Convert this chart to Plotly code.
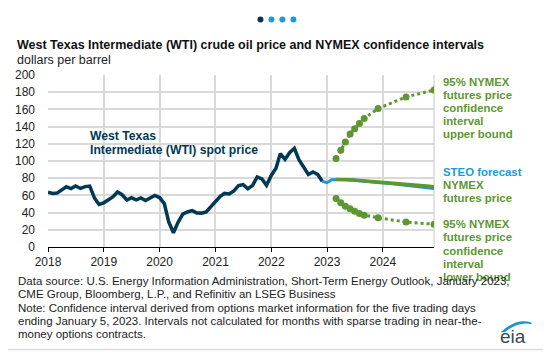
import plotly.graph_objects as go

# ---------------- data ----------------
wti_dates = [f"{y}-{m:02d}-01" for y in range(2018, 2023) for m in range(1, 13)]
wti_values = [
    63.7, 62.2, 62.7, 66.3, 70.0, 67.9, 71.0, 68.1, 70.2, 70.8, 57.0, 49.5,
    51.4, 55.0, 58.2, 63.9, 60.8, 54.7, 57.4, 54.8, 57.0, 54.0, 57.0, 59.9,
    57.5, 50.5, 29.2, 16.6, 28.6, 38.3, 40.7, 42.3, 39.6, 39.4, 40.9, 47.0,
    52.0, 59.0, 62.3, 61.7, 65.2, 71.4, 72.5, 67.7, 71.6, 81.5, 79.2, 71.7,
    83.2, 91.6, 108.5, 101.8, 109.6, 114.8, 101.6, 93.7, 84.3, 87.3, 84.4, 76.4,
]

steo_dates = ["2022-12-01"] + [f"{y}-{m:02d}-01" for y in (2023, 2024) for m in range(1, 13)]
steo_values = [
    76.4,
    74.8, 78.2, 78.6, 78.6, 78.4, 78.0, 77.5, 77.0, 76.5, 76.0, 75.5, 75.0,
    74.5, 74.0, 73.5, 73.0, 72.5, 72.0, 71.4, 70.8, 70.2, 69.5, 68.8, 68.0,
]

fut_dates = [f"{y}-{m:02d}-01" for y, ms in ((2023, range(3, 13)), (2024, range(1, 13))) for m in ms]
fut_values = [
    78.6, 78.6, 78.4, 78.1, 77.8, 77.4, 77.0, 76.6, 76.2, 75.8,
    75.4, 75.0, 74.6, 74.2, 73.8, 73.4, 73.0, 72.5, 72.0, 71.3, 70.6, 69.8,
]

ci_dates = ["2023-03-01", "2023-04-01", "2023-05-01", "2023-06-01", "2023-07-01",
            "2023-08-01", "2023-09-01", "2023-12-01", "2024-06-01", "2024-12-01"]
ci_upper = [103.0, 112.5, 122.0, 131.5, 137.5, 143.5, 149.5, 161.0, 174.5, 182.5]
ci_lower = [56.5, 51.5, 47.5, 44.5, 41.5, 39.0, 37.0, 34.0, 29.0, 26.5]

years = ["2018", "2019", "2020", "2021", "2022", "2023", "2024"]
y_ticks = list(range(0, 201, 20))

NAVY = "#003953"
BLUE = "#1b9ad6"
GREEN = "#5d9732"
FONT = "Liberation Sans, Arial, sans-serif"

OFF = 8  # page body margin
W, H = 551 - OFF, 355 - OFF
L, T = 47.7 - OFF, 75 - OFF
R = W - (434.3 - OFF)
B = H - (246.7 - OFF)
PW, PH = W - L - R, H - T - B


def px(x):  # page pixel -> paper
    return (x - OFF - L) / PW


def py(y):
    return (H - B - (y - OFF)) / PH


fig = go.Figure()
fig.add_trace(go.Scatter(x=wti_dates, y=wti_values, mode="lines",
                         line=dict(color=NAVY, width=3.5), hoverinfo="skip"))
fig.add_trace(go.Scatter(x=steo_dates, y=steo_values, mode="lines",
                         line=dict(color=BLUE, width=3), hoverinfo="skip"))
fig.add_trace(go.Scatter(x=fut_dates, y=fut_values, mode="lines",
                         line=dict(color=GREEN, width=3.5), hoverinfo="skip"))
for vals in (ci_upper, ci_lower):
    fig.add_trace(go.Scatter(x=ci_dates, y=vals, mode="lines+markers",
                             line=dict(color=GREEN, width=3, dash="dot"),
                             marker=dict(color=GREEN, size=7), hoverinfo="skip"))

ann = []


def text(x, y, s, size=12, color="#222", bold=False, anchor="left"):
    ann.append(dict(xref="paper", yref="paper", x=px(x), y=py(y), text=(f"<b>{s}</b>" if bold else s),
                    showarrow=False, xanchor=anchor, yanchor="middle",
                    font=dict(family=FONT, size=size, color=color)))


text(15, 45.5, "West Texas Intermediate (WTI) crude oil price and NYMEX confidence intervals", 12.5, "#111", True)
text(15, 60, "dollars per barrel", 12.5, "#222")

text(88, 136, "West Texas", 12.2, NAVY, True)
text(88, 150, "Intermediate (WTI) spot price", 12.2, NAVY, True)

GS = 11.4
for i, s in enumerate(["95% NYMEX", "futures price", "confidence", "interval", "upper bound"]):
    text(441, 82.3 + i * 12.8, s, GS, GREEN, True)
text(441, 172.3, "STEO forecast", GS, BLUE, True)
text(441, 185.1, "NYMEX", GS, GREEN, True)
text(441, 197.9, "futures price", GS, GREEN, True)
for i, s in enumerate(["95% NYMEX", "futures price", "confidence", "interval", "lower bound"]):
    text(441, 224 + i * 13.1, s, GS, GREEN, True)

foot = [
    "Data source: U.S. Energy Information Administration, Short-Term Energy Outlook, January 2023,",
    "CME Group, Bloomberg, L.P., and Refinitiv an LSEG Business",
    "Note: Confidence interval derived from options market information for the five trading days",
    "ending January 5, 2023. Intervals not calculated for months with sparse trading in near-the-",
    "money options contracts.",
]
for s, y in zip(foot, [281, 294, 308, 321, 333.5]):
    text(15.5, y, s, 11.5, "#222")

# eia logo text
text(513.5, 336, "eia", 19, "#3a4a55", False, "center")

shapes = [
    dict(type="rect", xref="paper", yref="paper", x0=px(6), x1=px(548), y0=py(2), y1=py(349),
         line=dict(color="#dcdcdc", width=1.5), fillcolor="rgba(0,0,0,0)", layer="below"),
    dict(type="rect", xref="paper", yref="paper", x0=px(6), x1=px(548), y0=py(2), y1=py(6.5),
         line=dict(width=0), fillcolor="#1796d5"),
    dict(type="line", xref="paper", yref="paper", x0=1, x1=1, y0=0, y1=1,
         line=dict(color="#d9d9d9", width=1.5), layer="below"),
    dict(type="path", xref="paper", yref="paper",
         path=f"M {px(503)},{py(331)} Q {px(518)},{py(318)} {px(532)},{py(323)} Q {px(519)},{py(320)} {px(505)},{py(331)} Z",
         line=dict(color="#1796d5", width=1.5), fillcolor="#1796d5"),
]
for i, cx in enumerate([260.5, 271.5, 282.5, 293.5]):
    c = "#0d3149" if i == 0 else "#1b9ad6"
    shapes.append(dict(type="circle", xref="paper", yref="paper", x0=px(cx - 3), x1=px(cx + 3),
                       y0=py(16.5), y1=py(22.5), line=dict(width=0), fillcolor=c))

fig.update_layout(
    width=W, height=H, autosize=False,
    margin=dict(l=L, r=R, t=T, b=B, pad=0),
    paper_bgcolor="white", plot_bgcolor="white",
    showlegend=False,
    font=dict(family=FONT, size=12, color="#222"),
    annotations=ann, shapes=shapes,
    xaxis=dict(type="date", range=["2018-01-01", "2024-12-01"], automargin=False,
               tickmode="array", tickvals=[f"{y}-01-01" for y in years], ticktext=years,
               showgrid=True, gridcolor="#d9d9d9", gridwidth=1.5,
               showline=True, linecolor="black", linewidth=1,
               ticks="outside", ticklen=4, tickcolor="black",
               tickfont=dict(size=12, color="#222"), zeroline=False),
    yaxis=dict(range=[0, 200], tickmode="array", tickvals=y_ticks, automargin=False,
               showgrid=True, gridcolor="#d9d9d9", gridwidth=1.5,
               showline=False, ticks="", ticklabelstandoff=12,
               tickfont=dict(size=12, color="#222"), zeroline=False),
)

fig.write_html("out.html")
